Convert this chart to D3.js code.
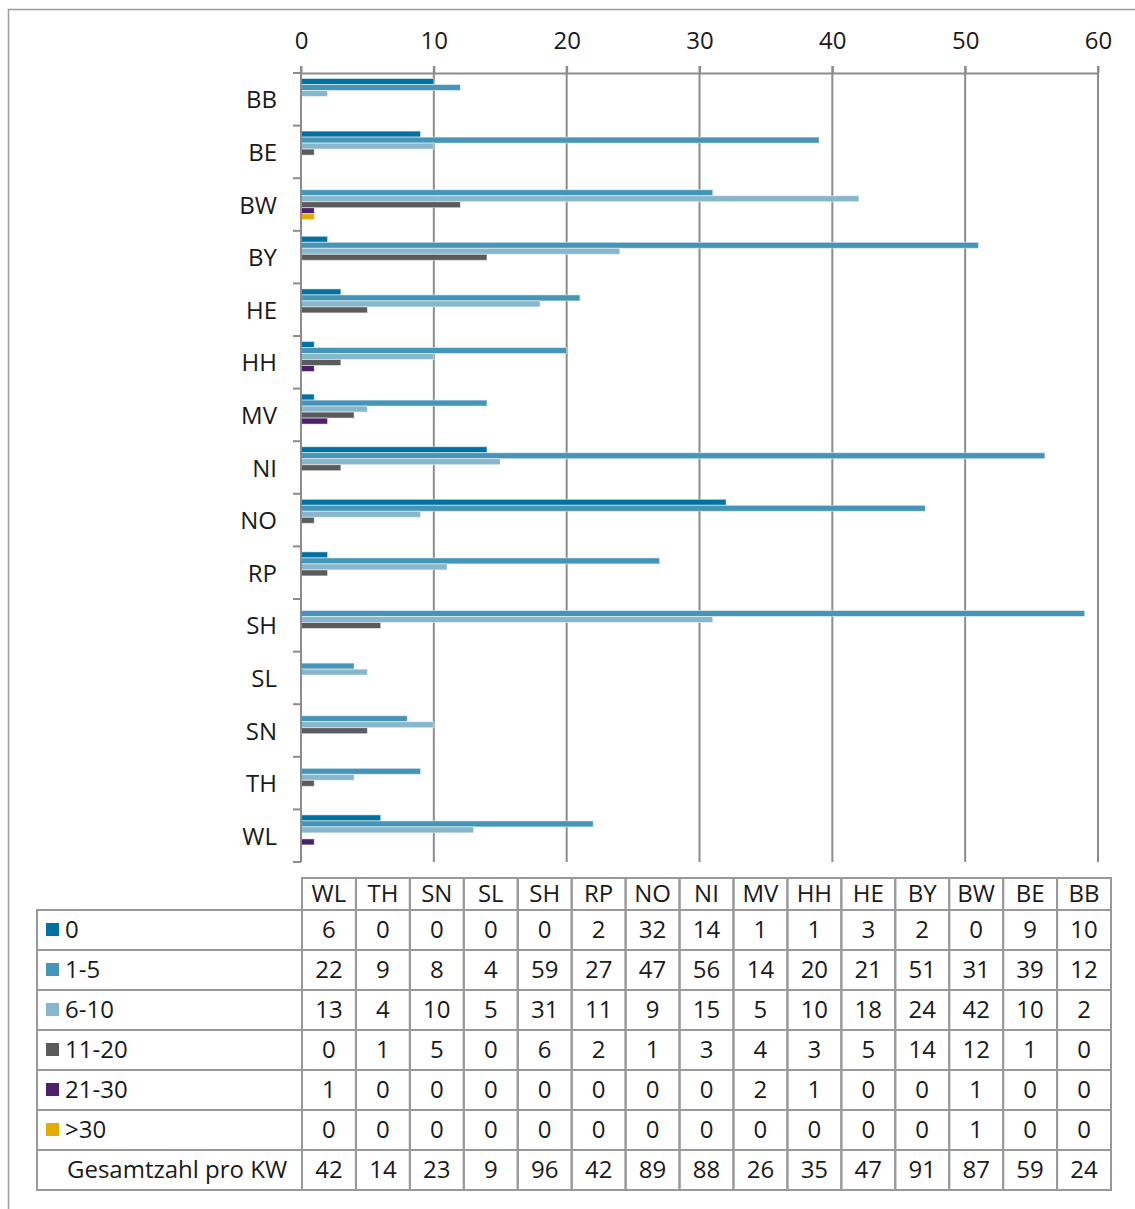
<!DOCTYPE html>
<html>
<head>
<meta charset="utf-8">
<script src="https://cdn.jsdelivr.net/npm/d3@7"></script>
<style>
  body { margin: 0; background: #fff; }
  svg text { font-family: "Open Sans", "Noto Sans", sans-serif; font-weight: 400; fill: #1a1a1a; }
</style>
</head>
<body>
<svg id="chart" width="1135" height="1209"></svg>
<script>
// Bundesländer / Kategorien, von oben nach unten
const laender = ["BB","BE","BW","BY","HE","HH","MV","NI","NO","RP","SH","SL","SN","TH","WL"];
const klassen = ["0","1-5","6-10","11-20","21-30",">30"];
const farben = ["#0071a1","#4595b9","#87b7cc","#5b5b5b","#4c216b","#e2ac00"];

// Werte je Klasse, in Reihenfolge von laender
const w0     = [10,9,0,2,3,1,1,14,32,2,0,0,0,0,6];
const w1_5   = [12,39,31,51,21,20,14,56,47,27,59,4,8,9,22];
const w6_10  = [2,10,42,24,18,10,5,15,9,11,31,5,10,4,13];
const w11_20 = [0,1,12,14,5,3,4,3,1,2,6,0,5,1,0];
const w21_30 = [0,0,1,0,0,1,2,0,0,0,0,0,0,0,1];
const w30    = [0,0,1,0,0,0,0,0,0,0,0,0,0,0,0];
const gesamt = [24,59,87,91,47,35,26,88,89,42,96,9,23,14,42];
const xTicks = [0,10,20,30,40,50,60];

const reihen = [w0, w1_5, w6_10, w11_20, w21_30, w30];

const svg = d3.select("#chart");
const grau = "#8c8c8c";

// Rahmen
svg.append("path")
  .attr("d", "M8.5,1209 V9.5 H1135")
  .attr("fill", "none").attr("stroke", "#9a9a9a").attr("stroke-width", 1.5);

const xScale = d3.scaleLinear().domain([0, 60]).range([301, 1098]);
const yScale = d3.scaleBand().domain(laender).range([73, 862]);
const ySub = d3.scaleBand().domain(klassen).range([5.5, 41.5]);

// Gitterlinien
svg.append("g").selectAll("line")
  .data(xTicks.slice(1))
  .enter().append("line")
    .attr("x1", d => xScale(d)).attr("x2", d => xScale(d))
    .attr("y1", 66).attr("y2", 862)
    .attr("stroke", grau).attr("stroke-width", 2);

// obere Achse
const xAxis = d3.axisTop(xScale).tickValues(xTicks).tickSize(7).tickPadding(17).tickSizeOuter(0);
const xAxisG = svg.append("g")
  .attr("transform", "translate(0,73)")
  .call(xAxis);
xAxisG.select(".domain").attr("stroke", grau).attr("stroke-width", 2);
xAxisG.selectAll(".tick line").attr("stroke", grau).attr("stroke-width", 2);
xAxisG.selectAll(".tick text")
  .style("font-size", "24px")
  .style("font-family", "'Open Sans', 'Noto Sans', sans-serif")
  .attr("fill", "#1a1a1a");

// Balken
const gruppen = svg.append("g").selectAll("g")
  .data(laender)
  .enter().append("g")
    .attr("transform", d => `translate(0,${yScale(d)})`);

gruppen.selectAll("rect")
  .data((d, i) => klassen.map((k, j) => ({k, v: reihen[j][i]})))
  .enter().append("rect")
    .filter(d => d.v > 0)
    .attr("x", xScale(0))
    .attr("y", d => ySub(d.k))
    .attr("width", d => xScale(d.v) - xScale(0))
    .attr("height", ySub.bandwidth())
    .attr("fill", d => farben[klassen.indexOf(d.k)])
    .attr("stroke", "rgba(255,255,255,0.5)")
    .attr("stroke-width", 1);

// linke Achse mit Kategorie-Strichen
svg.append("line")
  .attr("x1", 301).attr("x2", 301).attr("y1", 66).attr("y2", 862)
  .attr("stroke", grau).attr("stroke-width", 2);
svg.append("g").selectAll("line")
  .data(laender.concat(["_ende"]))
  .enter().append("line")
    .attr("x1", 293).attr("x2", 301)
    .attr("y1", (d, i) => i < laender.length ? yScale(d) : yScale.range()[1])
    .attr("y2", (d, i) => i < laender.length ? yScale(d) : yScale.range()[1])
    .attr("stroke", grau).attr("stroke-width", 2);

svg.append("g").selectAll("text")
  .data(laender)
  .enter().append("text")
    .attr("x", 277)
    .attr("y", d => yScale(d) + yScale.bandwidth() / 2 + 9)
    .attr("text-anchor", "end")
    .style("font-size", "24px")
    .text(d => d);

// Datentabelle
const spalten = laender.slice().reverse();
const xTab = d3.scaleBand().domain(spalten).range([302, 1111]);
const kopfOben = 878, zeileOben = 910, zeileH = 40;
const tabLinks = 37;
const zeilen = klassen.concat(["Gesamtzahl pro KW"]);
const yTab = d3.scaleBand().domain(zeilen).range([zeileOben, zeileOben + zeileH * zeilen.length]);
const tab = svg.append("g");
const tabStrich = "#999";

// Kopfzeile
tab.append("g").selectAll("rect")
  .data(spalten)
  .enter().append("rect")
    .attr("x", d => xTab(d)).attr("y", kopfOben)
    .attr("width", xTab.bandwidth()).attr("height", zeileOben - kopfOben)
    .attr("fill", "none").attr("stroke", tabStrich).attr("stroke-width", 2);
tab.append("g").selectAll("text")
  .data(spalten)
  .enter().append("text")
    .attr("x", d => xTab(d) + xTab.bandwidth() / 2)
    .attr("y", kopfOben + 24)
    .attr("text-anchor", "middle")
    .style("font-size", "24px")
    .text(d => d);

// Zeilen
const werteZeilen = reihen.concat([gesamt]);
zeilen.forEach((z, r) => {
  const y = yTab(z);
  tab.append("rect")
    .attr("x", tabLinks).attr("y", y)
    .attr("width", 302 - tabLinks).attr("height", zeileH)
    .attr("fill", "none").attr("stroke", tabStrich).attr("stroke-width", 2);
  if (r < klassen.length) {
    tab.append("rect")
      .attr("x", 46).attr("y", y + 13)
      .attr("width", 13).attr("height", 13)
      .attr("fill", farben[r]);
  }
  tab.append("text")
    .attr("x", r < klassen.length ? 65 : 67)
    .attr("y", y + 28)
    .style("font-size", "24px")
    .text(z);
  const vals = werteZeilen[r];
  tab.append("g").selectAll("rect")
    .data(spalten)
    .enter().append("rect")
      .attr("x", d => xTab(d)).attr("y", y)
      .attr("width", xTab.bandwidth()).attr("height", zeileH)
      .attr("fill", "none").attr("stroke", tabStrich).attr("stroke-width", 2);
  tab.append("g").selectAll("text")
    .data(spalten)
    .enter().append("text")
      .attr("x", d => xTab(d) + xTab.bandwidth() / 2)
      .attr("y", y + 28)
      .attr("text-anchor", "middle")
      .style("font-size", "24px")
      .text(d => vals[laender.indexOf(d)]);
});
</script>
</body>
</html>
